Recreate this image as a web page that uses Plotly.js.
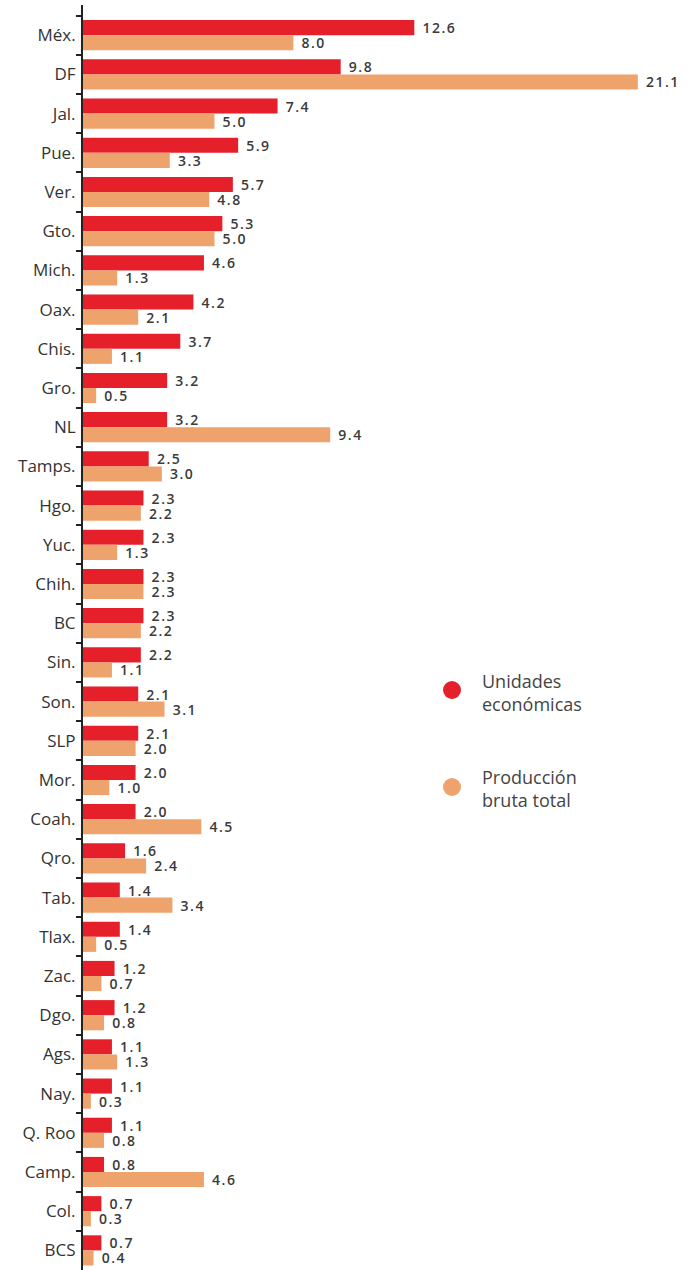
<!DOCTYPE html>
<html>
<head>
<meta charset="utf-8">
<script src="https://cdn.plot.ly/plotly-3.0.1.min.js"></script>
<style>html,body{margin:0;padding:0;background:#fff}#chart{width:697px;height:1270px}
text.bartext{letter-spacing:1.5px}</style>
</head>
<body>
<div id="chart"></div>
<script>
const states = ["Méx.","DF","Jal.","Pue.","Ver.","Gto.","Mich.","Oax.","Chis.","Gro.","NL","Tamps.","Hgo.","Yuc.","Chih.","BC","Sin.","Son.","SLP","Mor.","Coah.","Qro.","Tab.","Tlax.","Zac.","Dgo.","Ags.","Nay.","Q. Roo","Camp.","Col.","BCS"];
const unidades = [12.6,9.8,7.4,5.9,5.7,5.3,4.6,4.2,3.7,3.2,3.2,2.5,2.3,2.3,2.3,2.3,2.2,2.1,2.1,2.0,2.0,1.6,1.4,1.4,1.2,1.2,1.1,1.1,1.1,0.8,0.7,0.7];
const produccion = [8.0,21.1,5.0,3.3,4.8,5.0,1.3,2.1,1.1,0.5,9.4,3.0,2.2,1.3,2.3,2.2,1.1,3.1,2.0,1.0,4.5,2.4,3.4,0.5,0.7,0.8,1.3,0.3,0.8,4.6,0.3,0.4];
const seriesNames = ["Unidades<br>económicas","Producción<br>bruta total"];

const RED = "#E5202B", ORANGE = "#EFA36C";
const W = 697, H = 1270, ML = 83, MT = 5;
const px = (x) => (x - ML) / (W - ML);
const py = (y) => 1 - (y - MT) / (H - MT);

const labelFont = {family: "Open Sans, sans-serif", size: 14, color: "#3a3a3a", weight: 600};

const traces = [
  {type: "bar", orientation: "h", y: states, x: unidades, name: "Unidades económicas",
   marker: {color: RED}, text: unidades.map(v => "\u00a0" + v.toFixed(1)), textposition: "outside",
   constraintext: "none", textfont: labelFont, cliponaxis: false, hoverinfo: "none"},
  {type: "bar", orientation: "h", y: states, x: produccion, name: "Producción bruta total",
   marker: {color: ORANGE}, text: produccion.map(v => "\u00a0" + v.toFixed(1)), textposition: "outside",
   constraintext: "none", textfont: labelFont, cliponaxis: false, hoverinfo: "none"}
];

const legendFont = {family: "Open Sans, sans-serif", size: 18, color: "#444"};
const layout = {
  width: W, height: H,
  margin: {l: ML, r: 0, t: MT, b: 0},
  paper_bgcolor: "#fff", plot_bgcolor: "#fff",
  barmode: "group", bargap: 0.23, bargroupgap: 0,
  showlegend: false,
  xaxis: {range: [0, 23.35], showgrid: false, zeroline: false, showticklabels: false, ticks: "", showline: false},
  yaxis: {type: "category", range: [31.5, -0.77], showgrid: false, zeroline: false,
    showline: true, linecolor: "#222", linewidth: 2,
    ticks: "outside", tickson: "boundaries", ticklen: 5, tickwidth: 2, tickcolor: "#222",
    tickfont: {family: "Open Sans, sans-serif", size: 17, color: "#333"}, ticklabelstandoff: 2},
  shapes: [
    {type: "circle", xref: "paper", yref: "paper", x0: px(443), x1: px(461), y0: py(699), y1: py(681), fillcolor: RED, line: {width: 0}},
    {type: "circle", xref: "paper", yref: "paper", x0: px(443), x1: px(461), y0: py(796), y1: py(778), fillcolor: ORANGE, line: {width: 0}}
  ],
  annotations: [
    {xref: "paper", yref: "paper", x: px(480), y: py(692), xanchor: "left", yanchor: "middle", align: "left", showarrow: false, text: seriesNames[0], font: legendFont},
    {xref: "paper", yref: "paper", x: px(480), y: py(788), xanchor: "left", yanchor: "middle", align: "left", showarrow: false, text: seriesNames[1], font: legendFont}
  ]
};

Plotly.newPlot("chart", traces, layout, {displayModeBar: false, staticPlot: true});
</script>
</body>
</html>
